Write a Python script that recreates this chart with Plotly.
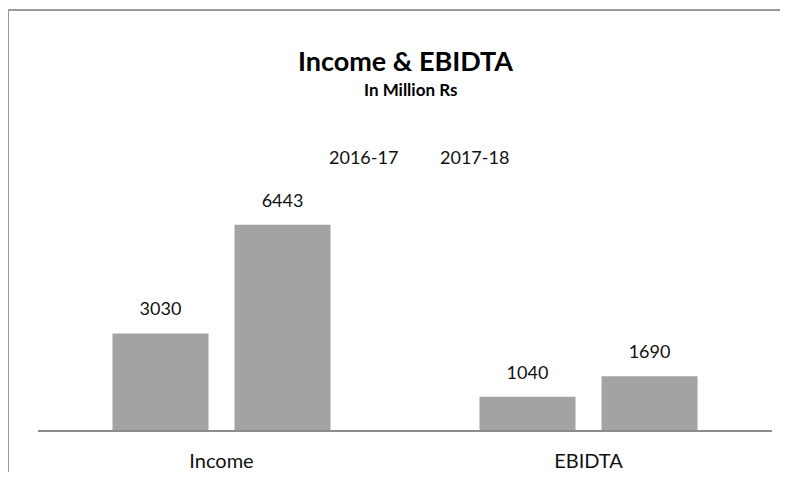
import plotly.graph_objects as go

categories = ["Income", "EBIDTA"]
series_names = ["2016-17", "2017-18"]
values_2016 = [3030, 1040]
values_2017 = [6443, 1690]
title_text = "Income & EBIDTA"
subtitle_text = "In Million Rs"

FONT = "Lato"
BAR_COLOR = "#a3a3a3"
TEXT_COLOR = "#111111"

fig = go.Figure()
groups = ["g1", "g2"]
for name, vals, grp in zip(series_names, [values_2016, values_2017], groups):
    fig.add_trace(go.Bar(
        x=categories, y=vals, name=name, showlegend=False,
        offsetgroup=grp,
        marker=dict(color=BAR_COLOR, line=dict(width=0)),
        hoverinfo="x+y",
    ))
# value labels, aligned to the bars through offsetgroup
for name, vals, grp in zip(series_names, [values_2016, values_2017], groups):
    fig.add_trace(go.Scatter(
        x=categories, y=vals, name=name, showlegend=False,
        offsetgroup=grp, mode="markers+text",
        marker=dict(size=20, color="rgba(0,0,0,0)"),
        text=[str(v) for v in vals], textposition="top center",
        textfont=dict(family=FONT, size=18, color=TEXT_COLOR),
        cliponaxis=False, hoverinfo="skip",
    ))
# legend entries without visible symbols
for name in series_names:
    fig.add_trace(go.Scatter(
        x=[None], y=[None], name=name, mode="lines",
        line=dict(color="rgba(255,255,255,0)", width=0),
    ))

fig.update_layout(
    width=772, height=464,
    margin=dict(l=30, r=8, t=199, b=42),
    paper_bgcolor="white", plot_bgcolor="white",
    barmode="group", bargap=0.335, bargroupgap=0.213,
    scattermode="group", scattergap=0.335,
    title=dict(
        text=f"<b>{title_text}</b>",
        x=0.5149, xanchor="center", y=1 - 54 / 464, yanchor="middle", yref="container",
        font=dict(family=FONT, size=27, color="#000000"),
    ),
    annotations=[dict(
        text=f"<b>{subtitle_text}</b>", xref="paper", yref="paper",
        x=0.508, y=1.5247, xanchor="center", yanchor="middle", showarrow=False,
        font=dict(family=FONT, size=17, color="#000000"),
    )],
    legend=dict(
        orientation="h", x=0.4932, xanchor="center", y=1.224, yanchor="middle",
        font=dict(family=FONT, size=18, color=TEXT_COLOR),
        itemwidth=30, entrywidth=66, bgcolor="rgba(0,0,0,0)",
    ),
    xaxis=dict(
        showline=True, linecolor="#8c8c8c", linewidth=2, automargin=False,
        ticks="outside", ticklen=12, tickcolor="rgba(0,0,0,0)",
        tickfont=dict(family=FONT, size=20, color=TEXT_COLOR),
        showgrid=False, zeroline=False,
    ),
    yaxis=dict(
        range=[0, 7000], visible=False, showgrid=False, zeroline=False,
        automargin=False,
    ),
    shapes=[
        dict(type="line", xref="paper", yref="paper", x0=-0.04087, x1=-0.04087,
             y0=-0.3, y1=1.8834, line=dict(color="#9a9a9a", width=2)),
        dict(type="line", xref="paper", yref="paper", x0=-0.04087, x1=1.1,
             y0=1.8834, y1=1.8834, line=dict(color="#9a9a9a", width=2)),
    ],
)

fig.write_html("out.html")
